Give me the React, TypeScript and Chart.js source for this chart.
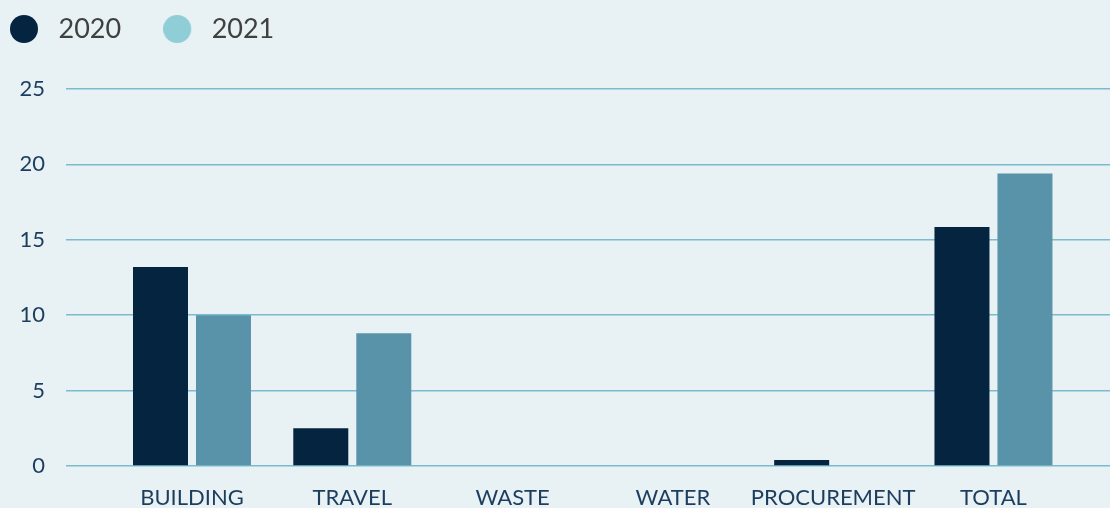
import React, { useEffect, useRef } from 'react';
import { Chart, registerables } from 'chart.js';

Chart.register(...registerables);

const categories = ['BUILDING', 'TRAVEL', 'WASTE', 'WATER', 'PROCUREMENT', 'TOTAL'];
const seriesNames = ['2020', '2021'];
const values2020 = [13.2, 2.5, 0, 0, 0.4, 15.85];
const values2021 = [10.0, 8.8, 0, 0, 0, 19.4];
const yTickStep = 5;
const yMax = 25;

const barColors = ['#04243f', '#5993a9'];
const legendColors = ['#04243f', '#8fcdd7'];
const gridColor = '#7abbcd';
const tickColor = '#1c3d5e';
const legendTextColor = '#404040';
const bgColor = '#e8f1f3';

function makeMarker(color: string): HTMLCanvasElement {
  const c = document.createElement('canvas');
  c.width = 35;
  c.height = 28;
  const ctx = c.getContext('2d')!;
  ctx.fillStyle = color;
  ctx.beginPath();
  ctx.arc(14, 14, 14, 0, Math.PI * 2);
  ctx.fill();
  return c;
}

export default function App() {
  const canvasRef = useRef<HTMLCanvasElement | null>(null);

  useEffect(() => {
    if (!canvasRef.current) return;
    const markers = legendColors.map(makeMarker);
    const series = [values2020, values2021];
    const chart = new Chart(canvasRef.current, {
      type: 'bar',
      data: {
        datasets: series.map((vals, si) => ({
          label: seriesNames[si],
          data: categories.map((_, i) => ({ x: i, y: vals[i] })),
          backgroundColor: barColors[si],
          borderWidth: 0,
          categoryPercentage: 0.786,
          barPercentage: 0.873,
          xAxisID: 'x',
        })),
      },
      options: {
        animation: false,
        responsive: true,
        maintainAspectRatio: false,
        layout: { padding: { top: -26.5, left: -32, right: 0, bottom: 0 } },
        plugins: {
          legend: {
            position: 'top',
            align: 'start',
            labels: {
              usePointStyle: true,
              pointStyleWidth: 35,
              padding: 42,
              color: legendTextColor,
              font: { family: 'Lato', size: 27 },
              generateLabels: (ch: any) => {
                const items = (Chart.defaults.plugins.legend.labels as any).generateLabels(ch);
                return items.map((it: any, i: number) => ({
                  ...it,
                  pointStyle: markers[i],
                  lineWidth: 0,
                }));
              },
            },
          },
          tooltip: { enabled: false },
        },
        scales: {
          x: {
            type: 'linear',
            bounds: 'data',
            offset: false,
            min: -0.786,
            max: 5.727,
            grid: { display: false },
            border: { display: false },
            afterBuildTicks: (s: any) => {
              s.ticks = categories.map((_, i) => ({ value: i }));
            },
            afterFit: (s: any) => {
              s.height = 42;
            },
            ticks: {
              autoSkip: false,
              maxRotation: 0,
              padding: 11,
              color: tickColor,
              font: { family: 'Lato', size: 22 },
              callback: (v: any) => categories[Number(v)] ?? '',
            },
          },
          gap: {
            type: 'linear',
            position: 'top',
            display: true,
            grid: { display: false },
            border: { display: false },
            ticks: { display: false },
            afterFit: (s: any) => {
              s.height = 36.5;
            },
          },
          y: {
            min: 0,
            max: yMax,
            ticks: {
              stepSize: yTickStep,
              padding: 21,
              color: tickColor,
              font: { family: 'Lato', size: 22 },
            },
            grid: { color: gridColor, lineWidth: 1.5, drawTicks: false },
            border: { display: false },
            afterFit: (s: any) => {
              s.width = 98;
            },
          },
        },
      },
    } as any);
    return () => chart.destroy();
  }, []);

  return (
    <div
      style={{
        position: 'fixed',
        left: 0,
        top: 0,
        width: 1110,
        height: 508,
        background: bgColor,
      }}
    >
      <canvas ref={canvasRef} />
    </div>
  );
}
